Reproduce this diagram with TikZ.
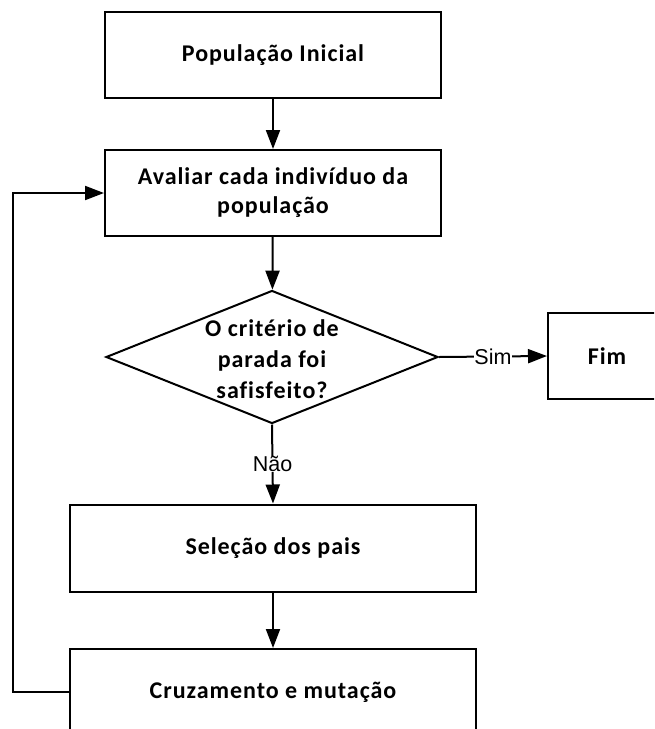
\documentclass[tikz,border=0pt]{standalone}
\usepackage{fontspec}
\setmainfont[Ligatures=NoCommon, LetterSpace=4]{Carlito}
\newfontfamily\labelfont{Liberation Sans}
\usetikzlibrary{shapes.geometric,arrows.meta}

\tikzset{
  stepbox/.style={draw, line width=2pt, rectangle, inner sep=0pt,
    font=\fontsize{24}{29}\selectfont\bfseries, align=center},
  decision/.style={draw, line width=2pt, diamond, inner sep=0pt},
  flow/.style={line width=2pt, -{Triangle[length=19pt,width=14pt]}},
  answer/.style={fill=white, inner sep=0.5pt, font=\fontsize{21.5}{23}\selectfont\labelfont}
}

\begin{document}
\begin{tikzpicture}[x=1pt,y=-1pt]
  \useasboundingbox (0,0) rectangle (654,729);
  \clip (0,0) rectangle (654,729);

  \node[stepbox, minimum width=336pt, minimum height=86pt] (ini) at (273,55) {População Inicial};
  \node[stepbox, minimum width=336pt, minimum height=86pt] (aval) at (273,193)
    {Avaliar cada indivíduo da\\população};
  \node[decision, minimum width=332pt, minimum height=133pt] (crit) at (272,357) {};
  \node[font=\fontsize{24}{31}\selectfont\bfseries, align=center] (critxt) at (272,359)
    {O critério de\\parada foi\\safisfeito?};
  \node[stepbox, minimum width=118pt, minimum height=86pt] (fim) at (607,356) {Fim};
  \node[stepbox, minimum width=406pt, minimum height=87pt] (sel) at (273,548) {Seleção dos pais};
  \node[stepbox, minimum width=406pt, minimum height=86pt] (cruz) at (273,692) {Cruzamento e mutação};

  \draw[flow] (ini) -- (aval);
  \draw[flow] (aval) -- (crit);
  \draw[flow] (crit.east) -- node[answer] {Sim} (fim.west);
  \draw[flow] (crit.south) -- node[answer] {Não} (sel.north);
  \draw[flow] (sel) -- (cruz);
  \draw[flow] (cruz.west) -- ++(-56,0) |- (aval.west);
\end{tikzpicture}
\end{document}
